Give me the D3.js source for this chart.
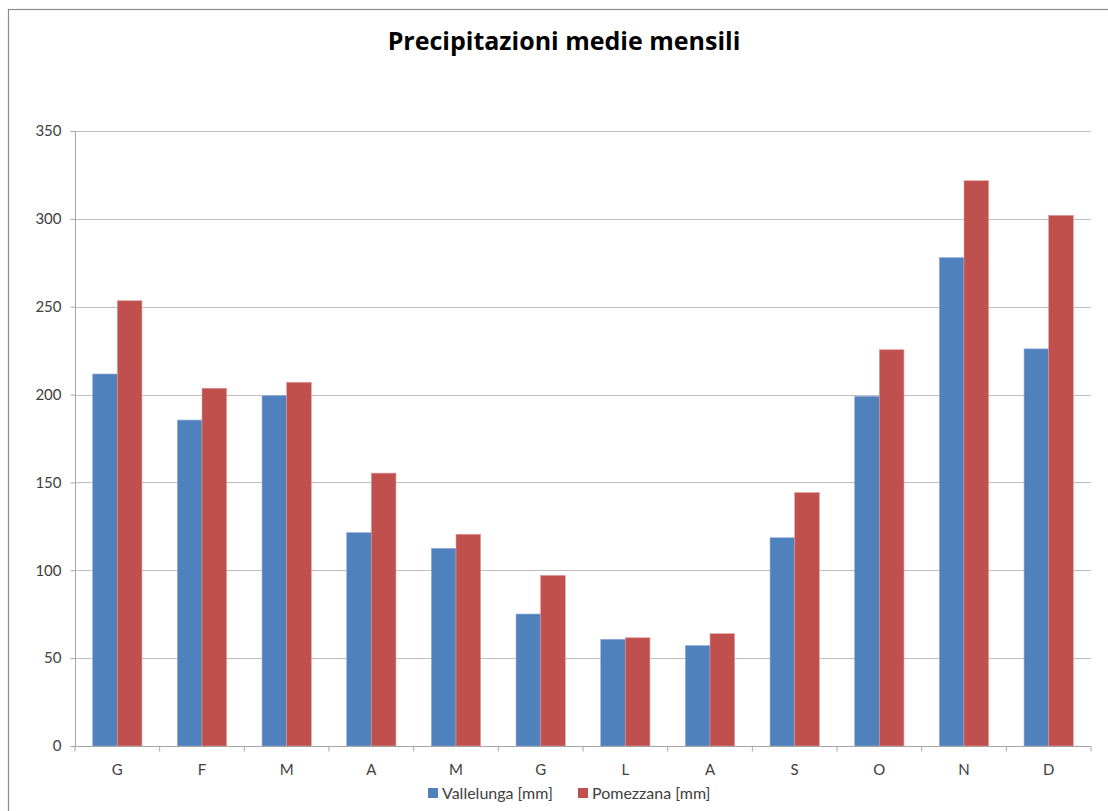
<!DOCTYPE html>
<html><head><meta charset="utf-8">
<script src="https://cdn.jsdelivr.net/npm/d3@7"></script>
<style>body{margin:0;background:#fff;}svg{display:block;font-family:Lato,"Open Sans",sans-serif;}</style>
</head><body>
<svg id="c" width="1108" height="811"></svg>
<script>
const months = ["G","F","M","A","M","G","L","A","S","O","N","D"];
const vallelunga = [211.7,185.5,199.4,121.4,112.5,75.1,60.7,57.1,118.5,199,277.9,226];
const pomezzana = [253.4,203.6,207,155.3,120.5,97.1,61.6,63.9,144.2,225.5,321.7,302];
const seriesNames = ["Vallelunga [mm]","Pomezzana [mm]"];
const colors = ["#4f81bd","#c0504d"];
const yTicks = [0,50,100,150,200,250,300,350];

const svg = d3.select("#c");
const L=75,R=1091,T=131,B=746;
svg.append("rect").attr("x",8.5).attr("y",9.5).attr("width",1120).attr("height",820)
  .attr("fill","#fff").attr("stroke","#8c8c8c").attr("stroke-width",1.2);

svg.append("text").attr("x",564).attr("y",50).attr("text-anchor","middle")
  .attr("font-size",25).attr("font-weight","bold").attr("fill","#000")
  .attr("font-family","'Open Sans',sans-serif")
  .text("Precipitazioni medie mensili");

const idx = d3.range(months.length);
const x = d3.scaleBand().domain(idx).range([L,R]).paddingInner(0).paddingOuter(0);
const y = d3.scaleLinear().domain([0,350]).range([B,T]);
const sub = d3.scaleBand().domain([0,1]).range([0,x.bandwidth()]).paddingInner(0).paddingOuter(0.72);

svg.append("g").selectAll("line").data(yTicks.filter(d=>d>0)).join("line")
  .attr("x1",L).attr("x2",R).attr("y1",d=>Math.round(y(d))+0.5).attr("y2",d=>Math.round(y(d))+0.5)
  .attr("stroke","#bfbfbf").attr("stroke-width",1.2);

const ya = svg.append("g").attr("transform",`translate(${L+0.5},0)`)
  .call(d3.axisLeft(y).tickValues(yTicks).tickSize(5).tickPadding(9).tickFormat(d3.format("d")));
ya.select(".domain").attr("stroke","#a6a6a6").attr("d",`M0,${T}V${B}`);
ya.selectAll(".tick line").attr("stroke","#a6a6a6");
ya.selectAll("text").attr("font-size",15).attr("fill","#404040").attr("font-family","Lato,'Open Sans',sans-serif");

const data = idx.map(i=>[vallelunga[i],pomezzana[i]]);
const g = svg.append("g");
data.forEach((vals,i)=>{
  vals.forEach((v,s)=>{
    g.append("rect").attr("x",x(i)+sub(s)).attr("width",sub.bandwidth())
      .attr("y",y(v)).attr("height",y(0)-y(v)).attr("fill",colors[s])
      .attr("stroke",s===0?"#8eaad6":"#e09a98").attr("stroke-width",0.6);
  });
});

const xa = svg.append("g").attr("transform",`translate(0,${B+0.5})`);
xa.append("line").attr("x1",L).attr("x2",R).attr("stroke","#a6a6a6").attr("stroke-width",1.2);
xa.selectAll("line.t").data(d3.range(months.length+1)).join("line").attr("class","t")
  .attr("x1",i=>L+i*x.step()).attr("x2",i=>L+i*x.step()).attr("y1",0).attr("y2",5).attr("stroke","#a6a6a6");
xa.selectAll("text").data(idx).join("text")
  .attr("x",i=>x(i)+x.bandwidth()/2).attr("y",28).attr("text-anchor","middle")
  .attr("font-size",15).attr("fill","#404040").text(i=>months[i]);

const leg = svg.append("g");
const lx=[428,578];
seriesNames.forEach((n,s)=>{
  leg.append("rect").attr("x",lx[s]).attr("y",788).attr("width",10).attr("height",10).attr("fill",colors[s]);
  leg.append("text").attr("x",lx[s]+14).attr("y",798.5).attr("font-size",16).attr("fill","#404040").text(n);
});
</script>
</body></html>
